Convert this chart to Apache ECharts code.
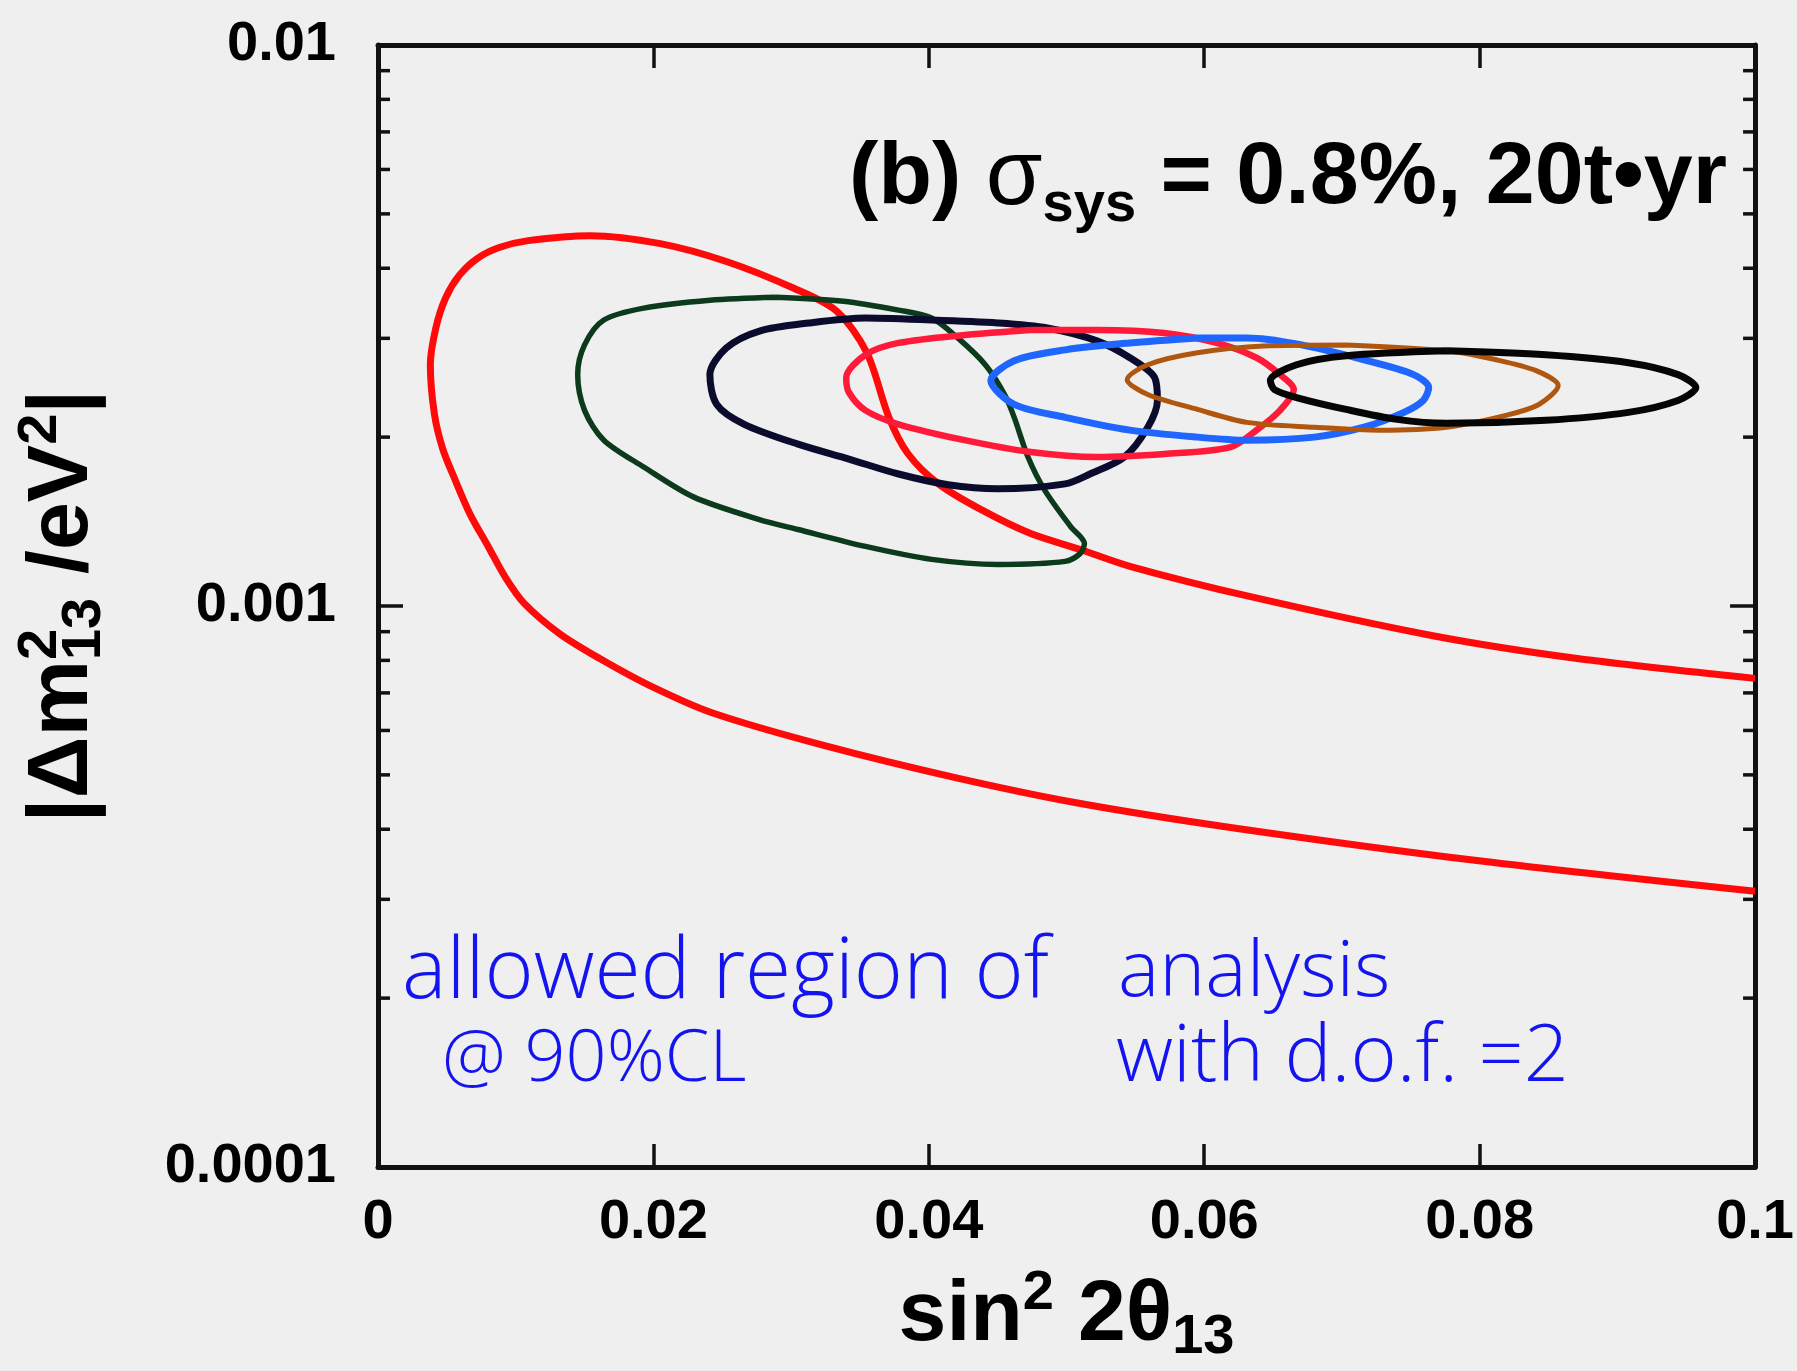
<!DOCTYPE html>
<html>
<head>
<meta charset="utf-8">
<title>allowed region, sin^2 2theta13 vs dm^2_13</title>
<script src="https://cdn.jsdelivr.net/npm/echarts@6/dist/echarts.min.js"></script>
<style>
  html, body { margin: 0; padding: 0; background: #efefef; }
  #chart { width: 1797px; height: 1371px; }
</style>
</head>
<body>
<div id="chart"></div>
<script>
// tick labels
const xTickLabels = ['0', '0.02', '0.04', '0.06', '0.08', '0.1'];
const yTickLabels = ['0.0001', '0.001', '0.01'];
const minorTickSteps = [2, 3, 4, 5, 6, 7, 8, 9];
const minorTickDecades = [0.0001, 0.001];

// contours: [sin^2 2theta13, |dm^2_13| in eV^2]
const redOuter = [
  [0.1, 7.43e-4], [0.0871, 8.06e-4], [0.0766, 8.85e-4], [0.0632, 1.041e-3], [0.0546, 1.177e-3],
  [0.0510, 1.261e-3], [0.0474, 1.346e-3], [0.0438, 1.485e-3], [0.0407, 1.651e-3], [0.0385, 1.866e-3],
  [0.0371, 2.169e-3], [0.0355, 2.827e-3], [0.0333, 3.355e-3], [0.0302, 3.684e-3], [0.0253, 4.113e-3],
  [0.0205, 4.426e-3], [0.0154, 4.573e-3], [0.0109, 4.48e-3], [0.0088, 4.355e-3], [0.0072, 4.163e-3],
  [0.0059, 3.884e-3], [0.0049, 3.537e-3], [0.0042, 3.130e-3], [0.0038, 2.692e-3], [0.0041, 2.196e-3],
  [0.0047, 1.906e-3], [0.0056, 1.678e-3], [0.0067, 1.455e-3], [0.0080, 1.277e-3], [0.0092, 1.130e-3],
  [0.0106, 1.012e-3], [0.0132, 8.92e-4], [0.0161, 8.06e-4], [0.0197, 7.22e-4], [0.0242, 6.46e-4],
  [0.0323, 5.65e-4], [0.0420, 4.94e-4], [0.0507, 4.46e-4], [0.0619, 4.03e-4], [0.0801, 3.51e-4],
  [0.1, 3.10e-4]
];
const greenContour = [
  [0.0289, 3.551e-3], [0.0338, 3.494e-3], [0.0378, 3.368e-3], [0.0402, 3.261e-3], [0.0421, 3.005e-3],
  [0.0441, 2.692e-3], [0.0455, 2.382e-3], [0.0462, 2.169e-3], [0.0472, 1.843e-3], [0.0484, 1.611e-3],
  [0.0503, 1.385e-3], [0.0513, 1.292e-3], [0.0510, 1.241e-3], [0.0499, 1.201e-3], [0.0450, 1.186e-3],
  [0.0402, 1.211e-3], [0.0354, 1.277e-3], [0.0305, 1.369e-3], [0.0277, 1.426e-3], [0.0229, 1.565e-3],
  [0.0193, 1.769e-3], [0.0164, 1.975e-3], [0.0150, 2.232e-3], [0.0145, 2.585e-3], [0.0150, 2.920e-3],
  [0.0164, 3.234e-3], [0.0193, 3.396e-3], [0.0241, 3.508e-3], [0.0289, 3.551e-3]
];
const navyContour = [
  [0.0402, 3.234e-3], [0.0450, 3.195e-3], [0.0486, 3.130e-3], [0.0522, 2.969e-3], [0.0546, 2.770e-3],
  [0.0564, 2.553e-3], [0.0566, 2.325e-3], [0.0559, 2.083e-3], [0.0542, 1.843e-3], [0.0517, 1.719e-3],
  [0.0499, 1.651e-3], [0.0450, 1.618e-3], [0.0414, 1.645e-3], [0.0378, 1.719e-3], [0.0342, 1.828e-3],
  [0.0305, 1.943e-3], [0.0266, 2.108e-3], [0.0246, 2.287e-3], [0.0241, 2.585e-3], [0.0253, 2.884e-3],
  [0.0277, 3.091e-3], [0.0313, 3.195e-3], [0.0354, 3.261e-3], [0.0402, 3.234e-3]
];
const redInner = [
  [0.0474, 3.105e-3], [0.0522, 3.105e-3], [0.0571, 3.067e-3], [0.0609, 2.944e-3], [0.0638, 2.770e-3],
  [0.0655, 2.585e-3], [0.0665, 2.431e-3], [0.0655, 2.232e-3], [0.0638, 2.058e-3], [0.0619, 1.919e-3],
  [0.0571, 1.866e-3], [0.0522, 1.843e-3], [0.0474, 1.881e-3], [0.0426, 1.975e-3], [0.0378, 2.108e-3],
  [0.0354, 2.232e-3], [0.0342, 2.402e-3], [0.0340, 2.553e-3], [0.0354, 2.804e-3], [0.0378, 2.944e-3],
  [0.0426, 3.042e-3], [0.0474, 3.105e-3]
];
const blueContour = [
  [0.0595, 3.005e-3], [0.0631, 3.005e-3], [0.0667, 2.932e-3], [0.0716, 2.747e-3], [0.0752, 2.585e-3],
  [0.0763, 2.451e-3], [0.0759, 2.325e-3], [0.0745, 2.214e-3], [0.0716, 2.083e-3], [0.0680, 2.000e-3],
  [0.0631, 1.975e-3], [0.0595, 2.000e-3], [0.0546, 2.058e-3], [0.0499, 2.169e-3], [0.0462, 2.287e-3],
  [0.0445, 2.522e-3], [0.0462, 2.736e-3], [0.0499, 2.861e-3], [0.0546, 2.944e-3], [0.0595, 3.005e-3]
];
const brownContour = [
  [0.0703, 2.920e-3], [0.0776, 2.850e-3], [0.0812, 2.747e-3], [0.0841, 2.627e-3], [0.0857, 2.471e-3],
  [0.0843, 2.287e-3], [0.0819, 2.187e-3], [0.0776, 2.083e-3], [0.0727, 2.058e-3], [0.0680, 2.083e-3],
  [0.0631, 2.125e-3], [0.0595, 2.241e-3], [0.0559, 2.382e-3], [0.0544, 2.532e-3], [0.0559, 2.692e-3],
  [0.0595, 2.827e-3], [0.0643, 2.908e-3], [0.0703, 2.920e-3]
];
const blackContour = [
  [0.0776, 2.850e-3], [0.0848, 2.804e-3], [0.0908, 2.714e-3], [0.0944, 2.585e-3], [0.0957, 2.451e-3],
  [0.0944, 2.325e-3], [0.0908, 2.214e-3], [0.0848, 2.143e-3], [0.0776, 2.117e-3], [0.0740, 2.151e-3],
  [0.0703, 2.241e-3], [0.0667, 2.353e-3], [0.0651, 2.431e-3], [0.0648, 2.522e-3], [0.0667, 2.692e-3],
  [0.0703, 2.793e-3], [0.0776, 2.850e-3]
];

const FONT = "'Liberation Sans', Arial, Helvetica, sans-serif";
const HAND = "'Open Sans', 'Noto Sans', sans-serif";
const INK = '#1414f0';

const minorTicks = [];
minorTickDecades.forEach(d => minorTickSteps.forEach(s => minorTicks.push([0, +(d * s).toPrecision(3)])));

const titleRich = {
  t: { fontFamily: FONT, fontWeight: 'bold', fontSize: 86, lineHeight: 100, color: '#000', align: 'left' },
  sup: { fontFamily: FONT, fontWeight: 'bold', fontSize: 56, lineHeight: 60, verticalAlign: 'top', color: '#000', align: 'left' },
  sup0: { fontFamily: FONT, fontWeight: 'bold', fontSize: 56, lineHeight: 60, verticalAlign: 'top', color: '#000', align: 'left', width: 0 },
  sub: { fontFamily: FONT, fontWeight: 'bold', fontSize: 56, lineHeight: 40, verticalAlign: 'bottom', color: '#000', align: 'left' }
};

function contour(data, color, width) {
  return {
    type: 'line', data: data, xAxisIndex: 0, yAxisIndex: 0,
    symbol: 'none', smooth: 0.3, clip: true,
    lineStyle: { color: color, width: width },
    emphasis: { disabled: true }
  };
}

function hand(text, x, y, size) {
  return {
    type: 'text', x: x, y: y, z: 10,
    style: { text: text, font: '300 ' + size + 'px ' + HAND, fill: INK, align: 'left', verticalAlign: 'middle' }
  };
}

const axisLineStyle = { color: '#111', width: 5 };
const tickStyle = { color: '#111', width: 3.5 };

const option = {
  backgroundColor: '#efefef',
  animation: false,
  grid: { left: 378, right: 37, top: 45, bottom: 196 },
  xAxis: [{
    type: 'value', min: 0, max: 0.1, interval: 0.02, position: 'bottom',
    axisLine: { onZero: false, lineStyle: axisLineStyle },
    axisTick: { inside: true, length: 23, lineStyle: tickStyle },
    splitLine: { show: false },
    axisLabel: {
      margin: 28, fontFamily: FONT, fontWeight: 'bold', fontSize: 56, color: '#000',
      formatter: (v) => xTickLabels[Math.round(v / 0.02)]
    },
    name: '{t|sin}{sup|2}{t| 2θ}{sub|13}',
    nameLocation: 'middle', nameGap: 99,
    nameTextStyle: { rich: titleRich }
  }, {
    type: 'value', min: 0, max: 0.1, interval: 0.02, position: 'top',
    axisLine: { onZero: false, lineStyle: axisLineStyle },
    axisTick: { inside: true, length: 23, lineStyle: tickStyle },
    axisLabel: { show: false }, splitLine: { show: false }
  }],
  yAxis: [{
    type: 'log', logBase: 10, min: 0.0001, max: 0.01, position: 'left',
    axisLine: { onZero: false, lineStyle: axisLineStyle },
    axisTick: { inside: true, length: 25, lineStyle: tickStyle },
    splitLine: { show: false },
    axisLabel: {
      margin: 42, fontFamily: FONT, fontWeight: 'bold', fontSize: 56, color: '#000',
      formatter: (v) => yTickLabels[Math.round(Math.log10(v)) + 4]
    },
    name: '{t||Δm}{sup0|2}{sub|13}{t| /eV}{sup|2}{t||}',
    nameLocation: 'middle', nameRotate: 90, nameGap: 265,
    nameTextStyle: { rich: titleRich }
  }, {
    type: 'log', logBase: 10, min: 0.0001, max: 0.01, position: 'right',
    axisLine: { onZero: false, lineStyle: axisLineStyle },
    axisTick: { inside: true, length: 25, lineStyle: tickStyle },
    axisLabel: { show: false }, splitLine: { show: false }
  }],
  graphic: [
    {
      type: 'text', x: 1727, y: 124, z: 10,
      style: {
        text: '{b|(b) }{sig|σ}{sub|sys}{b| = 0.8%, 20t•yr}',
        align: 'right', verticalAlign: 'top',
        rich: {
          b: { fontFamily: FONT, fontWeight: 'bold', fontSize: 88, lineHeight: 110, fill: '#000' },
          sig: { fontFamily: FONT, fontWeight: 'normal', fontSize: 92, lineHeight: 110, fill: '#000' },
          sub: { fontFamily: FONT, fontWeight: 'bold', fontSize: 56, lineHeight: 40, verticalAlign: 'bottom', fill: '#000' }
        }
      }
    },
    hand('allowed region of', 402, 974, 84),
    hand('analysis', 1118, 974, 78),
    hand('@ 90%CL', 442, 1060, 72),
    hand('with d.o.f. =2', 1116, 1058, 79)
  ],
  series: [
    contour(redOuter, '#ff0a0a', 7),
    contour(greenContour, '#0b3a1c', 5.5),
    contour(navyContour, '#0b0b2e', 7),
    contour(redInner, '#ff1a3a', 6.5),
    contour(blueContour, '#1f66ff', 7),
    contour(brownContour, '#b0560e', 5),
    contour(blackContour, '#050505', 7),
    {
      type: 'custom', xAxisIndex: 0, yAxisIndex: 0, clip: false, silent: true,
      data: minorTicks,
      renderItem: function (params, api) {
        const v = api.value(1);
        const pl = api.coord([0, v]);
        const pr = api.coord([0.1, v]);
        return {
          type: 'group',
          children: [
            { type: 'line', shape: { x1: pl[0], y1: pl[1], x2: pl[0] + 12, y2: pl[1] }, style: { stroke: '#111', lineWidth: 3.5 } },
            { type: 'line', shape: { x1: pr[0] - 12, y1: pr[1], x2: pr[0], y2: pr[1] }, style: { stroke: '#111', lineWidth: 3.5 } }
          ]
        };
      }
    }
  ]
};

const chart = echarts.init(document.getElementById('chart'));
chart.setOption(option);
</script>
</body>
</html>
